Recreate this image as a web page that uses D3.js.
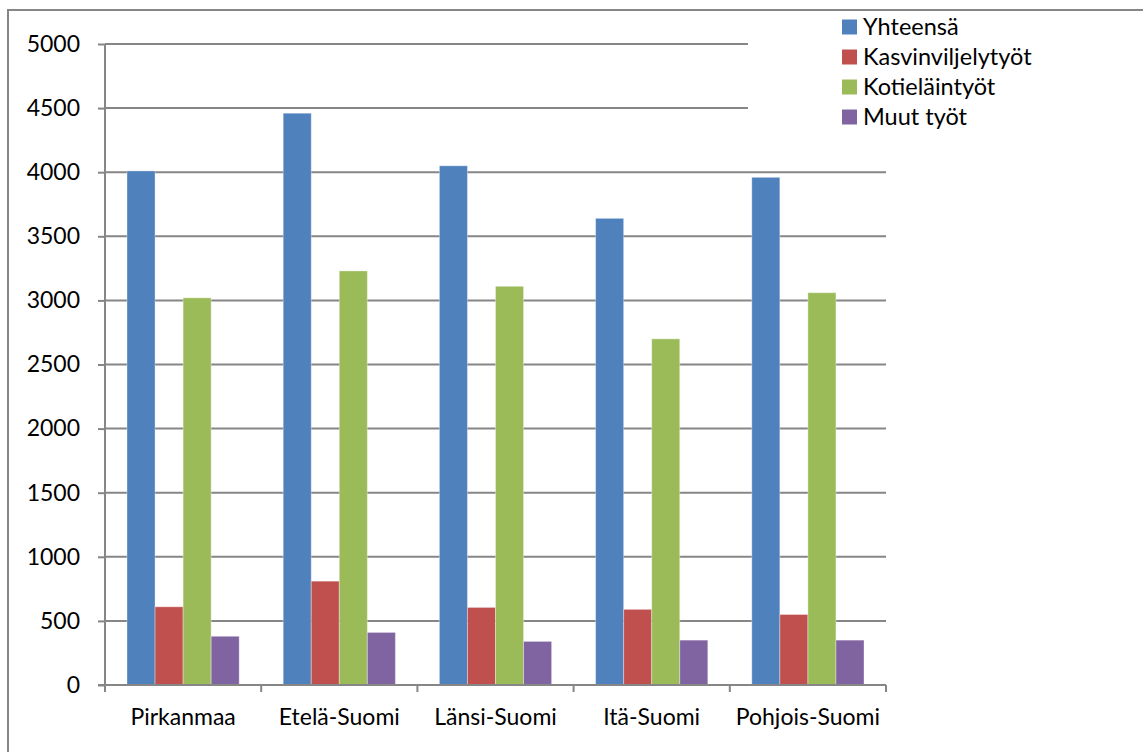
<!DOCTYPE html>
<html lang="fi">
<head>
  <meta charset="UTF-8">
  <title>Työt alueittain</title>
  <script src="https://d3js.org/d3.v7.min.js"></script>
  <style>
    body { margin: 0; background: #fff; }
    text { font-family: Lato, "Open Sans", sans-serif; fill: #000; }
    .axis text { font-size: 23px; }
    .legend text { font-size: 23.5px; }
  </style>
</head>
<body>
  <div id="chart"></div>
  <script>
    // Data
    const regions = ["Pirkanmaa", "Etelä-Suomi", "Länsi-Suomi", "Itä-Suomi", "Pohjois-Suomi"];
    const seriesNames = ["Yhteensä", "Kasvinviljelytyöt", "Kotieläintyöt", "Muut työt"];
    const yhteensa = [4010, 4460, 4050, 3640, 3960];
    const kasvinviljely = [610, 810, 605, 590, 550];
    const kotielain = [3020, 3230, 3110, 2700, 3060];
    const muut = [380, 410, 340, 350, 350];
    const yTicks = [0, 500, 1000, 1500, 2000, 2500, 3000, 3500, 4000, 4500, 5000];
    const colors = ["#4F81BD", "#C0504D", "#9BBB59", "#8064A2"];

    const allSeries = [yhteensa, kasvinviljely, kotielain, muut];

    const W = 1143, H = 752;
    const margin = { top: 44, right: 257, bottom: 67, left: 105 };
    const width = W - margin.left - margin.right;
    const height = H - margin.top - margin.bottom;

    const svg = d3.select("#chart").append("svg")
      .attr("width", W)
      .attr("height", H);

    // outer chart border
    svg.append("rect")
      .attr("x", 8).attr("y", 10)
      .attr("width", W).attr("height", H)
      .attr("fill", "none")
      .attr("stroke", "#868686")
      .attr("stroke-width", 2);

    const g = svg.append("g")
      .attr("transform", "translate(" + margin.left + "," + margin.top + ")");

    const x0 = d3.scaleBand()
      .domain(regions)
      .range([0, width])
      .paddingInner(0)
      .paddingOuter(0);

    const x1 = d3.scaleBand()
      .domain(seriesNames)
      .range([22, x0.bandwidth() - 22]);

    const y = d3.scaleLinear()
      .domain([0, 5000])
      .range([height, 0]);

    // gridlines
    g.append("g")
      .selectAll("line")
      .data(yTicks.filter(d => d > 0))
      .enter()
      .append("line")
      .attr("x1", 0).attr("x2", width)
      .attr("y1", d => y(d)).attr("y2", d => y(d))
      .attr("stroke", "#868686")
      .attr("stroke-width", 2);

    // bars
    const groups = g.selectAll(".grp")
      .data(regions)
      .enter()
      .append("g")
      .attr("class", "grp")
      .attr("transform", d => "translate(" + x0(d) + ",0)");

    groups.selectAll("rect")
      .data((d, i) => seriesNames.map((s, j) => ({ s: s, v: allSeries[j][i], c: colors[j] })))
      .enter()
      .append("rect")
      .attr("x", d => x1(d.s))
      .attr("width", x1.bandwidth())
      .attr("y", d => y(d.v))
      .attr("height", d => height - y(d.v))
      .attr("fill", d => d.c)
      .attr("stroke", "rgba(255,255,255,0.35)")
      .attr("stroke-width", 1);

    // y axis
    const yAxis = g.append("g")
      .attr("class", "axis")
      .call(d3.axisLeft(y).tickValues(yTicks).tickSize(7).tickPadding(18).tickFormat(d3.format("d")));
    yAxis.selectAll("line, path").attr("stroke", "#868686").attr("stroke-width", 2);
    yAxis.select(".domain").attr("d", "M0," + height + "V0");

    // x axis
    const xAxis = g.append("g")
      .attr("class", "axis")
      .attr("transform", "translate(0," + height + ")")
      .call(d3.axisBottom(x0).tickSize(0).tickPadding(24));
    xAxis.selectAll("line, path").attr("stroke", "#868686").attr("stroke-width", 2);
    xAxis.select(".domain").attr("d", "M-7,0H" + width);

    // category boundary ticks
    g.append("g")
      .selectAll("line")
      .data(d3.range(regions.length + 1))
      .enter()
      .append("line")
      .attr("x1", i => i * x0.step())
      .attr("x2", i => i * x0.step())
      .attr("y1", height)
      .attr("y2", height + 7)
      .attr("stroke", "#868686")
      .attr("stroke-width", 2);

    // legend
    const legend = svg.append("g").attr("class", "legend");
    legend.append("rect")
      .attr("x", 748).attr("y", 12)
      .attr("width", 380).attr("height", 140)
      .attr("fill", "#fff");

    const items = legend.selectAll(".item")
      .data(seriesNames)
      .enter()
      .append("g")
      .attr("class", "item")
      .attr("transform", (d, i) => "translate(842," + (27 + i * 30) + ")");
    items.append("rect")
      .attr("x", 0).attr("y", -7.5)
      .attr("width", 15).attr("height", 15)
      .attr("fill", (d, i) => colors[i]);
    items.append("text")
      .attr("x", 21)
      .attr("dy", "0.35em")
      .text(d => d);
  </script>
</body>
</html>
